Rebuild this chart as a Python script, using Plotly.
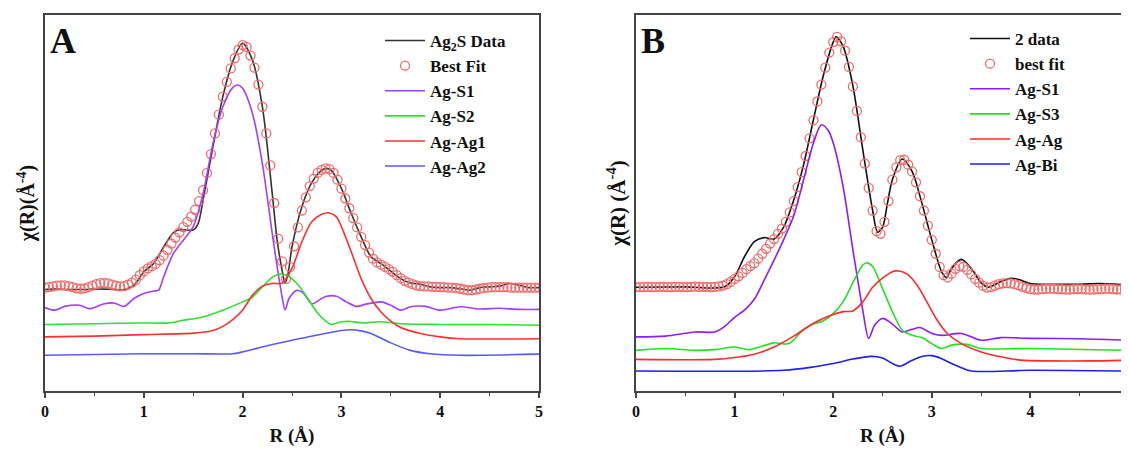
import numpy as np
import plotly.graph_objects as go

# ---------------- Panel A data ----------------
fitA_r = np.round(np.linspace(0, 5, 126), 2)
fitA = [2.75, 2.76, 2.78, 2.80, 2.81, 2.81, 2.79, 2.76, 2.73, 2.72,
        2.73, 2.76, 2.80, 2.84, 2.87, 2.87, 2.86, 2.83, 2.80, 2.78,
        2.79, 2.83, 2.88, 2.96, 3.08, 3.18, 3.26, 3.32, 3.38, 3.48,
        3.60, 3.75, 3.92, 4.08, 4.22, 4.36, 4.50, 4.64, 4.82, 5.05,
        5.34, 5.80, 6.30, 6.85, 7.35, 7.83, 8.22, 8.58, 8.85, 9.08,
        9.20, 9.15, 8.92, 8.60, 8.15, 7.56, 6.85, 6.00, 5.00, 4.05,
        3.45, 2.98, 3.30, 3.85, 4.35, 4.80, 5.15, 5.45, 5.65, 5.80,
        5.88, 5.92, 5.90, 5.80, 5.62, 5.38, 5.12, 4.86, 4.60, 4.35,
        4.10, 3.88, 3.68, 3.52, 3.42, 3.36, 3.30, 3.24, 3.17, 3.08,
        3.00, 2.93, 2.88, 2.84, 2.81, 2.79, 2.78, 2.78, 2.77, 2.77,
        2.76, 2.76, 2.75, 2.75, 2.74, 2.72, 2.70, 2.68, 2.68, 2.70,
        2.72, 2.74, 2.75, 2.76, 2.76, 2.76, 2.76, 2.76, 2.75, 2.75,
        2.75, 2.75, 2.75, 2.75, 2.75, 2.75]

dataA_r = [0, 0.1, 0.2, 0.3, 0.4, 0.5, 0.6, 0.7, 0.8, 0.9, 1.0, 1.1, 1.2, 1.3, 1.35,
           1.4, 1.5, 1.55, 1.6, 1.7, 1.8, 1.9, 2.0, 2.1, 2.2, 2.3, 2.35, 2.4, 2.43,
           2.46, 2.5, 2.6, 2.7, 2.8, 2.85, 2.9, 3.0, 3.1, 3.2, 3.3, 3.4, 3.5, 3.6,
           3.7, 3.8, 3.9, 4.0, 4.1, 4.2, 4.3, 4.4, 4.5, 4.6, 4.7, 4.8, 4.9, 5.0]
dataA = [2.70, 2.71, 2.70, 2.70, 2.70, 2.71, 2.71, 2.70, 2.70, 2.81, 3.17, 3.39, 3.83,
         4.21, 4.28, 4.29, 4.28, 4.45, 5.08, 6.50, 7.83, 8.76, 9.25, 8.80, 7.56, 5.25,
         4.00, 3.21, 2.87, 3.12, 3.83, 4.90, 5.54, 5.87, 5.92, 5.86, 5.39, 4.72, 4.10,
         3.57, 3.39, 3.19, 2.99, 2.87, 2.84, 2.77, 2.75, 2.75, 2.72, 2.68, 2.75, 2.77,
         2.79, 2.86, 2.81, 2.75, 2.75]

agS1A_r = [0, 0.1, 0.2, 0.35, 0.45, 0.6, 0.7, 0.8, 0.9, 1.0, 1.1, 1.15, 1.2, 1.3, 1.4,
           1.5, 1.6, 1.7, 1.8, 1.9, 1.95, 2.0, 2.1, 2.2, 2.3, 2.35, 2.4, 2.43, 2.47,
           2.55, 2.62, 2.7, 2.8, 2.85, 2.95, 3.05, 3.15, 3.25, 3.4, 3.5, 3.6, 3.7,
           3.85, 4.0, 4.2, 4.4, 4.6, 4.8, 5.0]
agS1A = [2.22, 2.15, 2.25, 2.28, 2.19, 2.32, 2.34, 2.25, 2.46, 2.59, 2.66, 2.68, 3.03,
         3.66, 4.01, 4.37, 5.25, 6.58, 7.56, 8.07, 8.14, 8.05, 7.38, 6.05, 4.19, 3.30,
         2.50, 2.15, 2.46, 2.68, 2.59, 2.32, 2.46, 2.52, 2.52, 2.37, 2.25, 2.31, 2.37,
         2.28, 2.15, 2.24, 2.25, 2.15, 2.24, 2.18, 2.20, 2.17, 2.17]

agS2A_r = [0, 0.5, 1.0, 1.25, 1.4, 1.6, 1.8, 2.0, 2.1, 2.2, 2.3, 2.38, 2.45, 2.55,
           2.65, 2.75, 2.85, 2.9, 3.0, 3.1, 3.2, 3.4, 3.6, 4.0, 4.5, 5.0]
agS2A = [1.77, 1.79, 1.81, 1.81, 1.88, 1.97, 2.15, 2.37, 2.50, 2.77, 3.02, 3.11, 3.07,
         2.86, 2.50, 2.10, 1.84, 1.77, 1.84, 1.85, 1.81, 1.84, 1.79, 1.77, 1.77, 1.75]

agAg1A_r = [0, 0.5, 1.0, 1.5, 1.7, 1.8, 1.9, 2.0, 2.1, 2.2, 2.3, 2.4, 2.5, 2.6, 2.7,
            2.8, 2.87, 2.95, 3.0, 3.1, 3.2, 3.3, 3.4, 3.5, 3.6, 3.8, 4.0, 4.2, 5.0]
agAg1A = [1.44, 1.46, 1.50, 1.54, 1.61, 1.72, 1.90, 2.15, 2.55, 2.79, 2.86, 2.87, 3.26,
          3.97, 4.50, 4.70, 4.74, 4.63, 4.37, 3.70, 2.99, 2.46, 2.10, 1.86, 1.69, 1.53,
          1.44, 1.39, 1.39]

agAg2A_r = [0, 1.0, 1.5, 1.9, 2.0, 2.2, 2.5, 2.8, 3.0, 3.1, 3.2, 3.3, 3.5, 3.7, 3.9,
            4.2, 5.0]
agAg2A = [0.95, 0.99, 0.99, 0.99, 1.04, 1.17, 1.35, 1.51, 1.61, 1.63, 1.60, 1.53, 1.28,
          1.08, 0.99, 0.95, 0.98]

# ---------------- Panel B data ----------------
fitB_r = np.round(np.linspace(0, 5, 126), 2)
fitB = [2.76, 2.76, 2.76, 2.77, 2.76, 2.76, 2.77, 2.77, 2.76, 2.76,
        2.77, 2.77, 2.76, 2.76, 2.77, 2.78, 2.77, 2.77, 2.77, 2.76,
        2.77, 2.78, 2.80, 2.84, 2.90, 2.98, 3.05, 3.14, 3.24, 3.32,
        3.40, 3.52, 3.65, 3.78, 3.92, 4.04, 4.18, 4.32, 4.50, 4.75,
        5.05, 5.42, 5.82, 6.25, 6.72, 7.20, 7.70, 8.15, 8.60, 9.00,
        9.28, 9.42, 9.30, 9.05, 8.62, 8.10, 7.45, 6.75, 6.05, 5.40,
        4.80, 4.25, 4.18, 4.50, 5.05, 5.62, 5.95, 6.14, 6.15, 6.02,
        5.84, 5.55, 5.18, 4.80, 4.40, 4.02, 3.65, 3.30, 3.08, 3.02,
        3.12, 3.25, 3.32, 3.30, 3.22, 3.10, 2.98, 2.88, 2.80, 2.75,
        2.76, 2.80, 2.84, 2.86, 2.87, 2.86, 2.84, 2.81, 2.77, 2.74,
        2.71, 2.70, 2.70, 2.71, 2.72, 2.72, 2.72, 2.71, 2.71, 2.70,
        2.70, 2.71, 2.71, 2.71, 2.70, 2.70, 2.70, 2.71, 2.71, 2.72,
        2.72, 2.71, 2.70, 2.70, 2.70, 2.70]

dataB_r = [0, 0.5, 0.9, 1.0, 1.1, 1.2, 1.3, 1.4, 1.5, 1.6, 1.7, 1.8, 1.9, 2.0, 2.03,
           2.1, 2.2, 2.3, 2.4, 2.45, 2.5, 2.55, 2.6, 2.7, 2.8, 2.9, 3.0, 3.1, 3.15,
           3.2, 3.3, 3.4, 3.5, 3.57, 3.7, 3.8, 3.9, 4.0, 4.5, 4.7, 5.0]
dataB = [2.76, 2.77, 2.77, 3.04, 3.57, 3.97, 4.08, 4.04, 4.37, 5.08, 6.02, 7.22, 8.39,
         9.28, 9.42, 9.17, 8.11, 6.42, 4.80, 4.22, 4.35, 4.99, 5.62, 6.17, 5.84, 4.99,
         4.02, 3.17, 3.02, 3.26, 3.50, 3.26, 2.88, 2.76, 2.91, 3.00, 2.95, 2.86, 2.84,
         2.86, 2.82]

agS1B_r = [0, 0.3, 0.6, 0.8, 0.9, 1.0, 1.1, 1.2, 1.3, 1.4, 1.5, 1.6, 1.7, 1.8, 1.88,
           1.95, 2.0, 2.1, 2.2, 2.3, 2.36, 2.42, 2.5, 2.6, 2.7, 2.8, 2.88, 3.0, 3.1,
           3.3, 3.5, 3.7, 4.0, 4.5, 5.0]
agS1B = [1.44, 1.46, 1.57, 1.57, 1.72, 1.96, 2.15, 2.44, 2.95, 3.48, 4.04, 4.66, 5.62,
         6.60, 7.08, 6.93, 6.60, 5.44, 3.75, 2.15, 1.40, 1.75, 1.93, 1.78, 1.57, 1.64,
         1.69, 1.53, 1.48, 1.53, 1.35, 1.42, 1.40, 1.39, 1.35]

agS3B_r = [0, 0.3, 0.6, 0.8, 1.0, 1.15, 1.4, 1.55, 1.7, 1.8, 1.9, 2.0, 2.1, 2.2, 2.3,
           2.34, 2.4, 2.5, 2.6, 2.7, 2.8, 2.9, 3.0, 3.1, 3.2, 3.35, 3.5, 4.0, 5.0]
agS3B = [1.08, 1.13, 1.08, 1.10, 1.17, 1.10, 1.28, 1.26, 1.64, 1.78, 1.87, 2.06, 2.37,
         2.88, 3.35, 3.41, 3.31, 2.73, 2.11, 1.62, 1.48, 1.42, 1.26, 1.13, 1.22, 1.24,
         1.13, 1.13, 1.08]

agAgB_r = [0, 0.8, 1.0, 1.2, 1.4, 1.6, 1.8, 1.95, 2.1, 2.2, 2.3, 2.4, 2.5, 2.6, 2.65,
           2.75, 2.85, 2.95, 3.05, 3.15, 3.3, 3.5, 3.7, 3.9, 4.2, 4.6, 5.0]
agAgB = [0.84, 0.84, 0.89, 0.98, 1.17, 1.46, 1.80, 1.99, 2.11, 2.13, 2.37, 2.76, 3.00,
         3.17, 3.20, 3.11, 2.82, 2.37, 1.90, 1.55, 1.26, 1.04, 0.91, 0.82, 0.80, 0.80,
         0.82]

agBiB_r = [0, 1.5, 1.8, 2.0, 2.2, 2.38, 2.5, 2.6, 2.68, 2.78, 2.9, 3.0, 3.1, 3.2, 3.3,
           3.4, 4.0, 5.0]
agBiB = [0.53, 0.55, 0.64, 0.73, 0.85, 0.92, 0.88, 0.73, 0.66, 0.79, 0.92, 0.94, 0.86,
         0.73, 0.62, 0.53, 0.55, 0.53]

x_ticks = [0, 1, 2, 3, 4, 5]

# ---------------- Styles ----------------
FONT = "Liberation Serif"
FIT_COLOR = "#f26b6b"
TXT = "#111111"

fig = go.Figure()

def line(x, y, name, color, xa, ya, legend, width=1.6):
    fig.add_trace(go.Scatter(x=x, y=y, mode="lines", name=name,
                             line=dict(color=color, width=width, shape="spline", smoothing=0.8),
                             xaxis=xa, yaxis=ya, legend=legend))

def fit(x, y, name, xa, ya, legend):
    fig.add_trace(go.Scatter(x=x, y=y, mode="markers", name=name,
                             marker=dict(symbol="circle-open", size=9, color=FIT_COLOR,
                                         line=dict(width=1.3, color=FIT_COLOR)),
                             xaxis=xa, yaxis=ya, legend=legend))

# Panel A
line(dataA_r, dataA, "Ag<sub>2</sub>S Data", "#333333", "x", "y", "legend")
fit(fitA_r, fitA, "Best Fit", "x", "y", "legend")
line(agS1A_r, agS1A, "Ag-S1", "#a040ff", "x", "y", "legend")
line(agS2A_r, agS2A, "Ag-S2", "#33dd33", "x", "y", "legend")
line(agAg1A_r, agAg1A, "Ag-Ag1", "#ff3030", "x", "y", "legend")
line(agAg2A_r, agAg2A, "Ag-Ag2", "#5a5aff", "x", "y", "legend")

# Panel B
line(dataB_r, dataB, "2 data", "#111111", "x2", "y2", "legend2")
fit(fitB_r, fitB, "best fit", "x2", "y2", "legend2")
line(agS1B_r, agS1B, "Ag-S1", "#8a1cff", "x2", "y2", "legend2")
line(agS3B_r, agS3B, "Ag-S3", "#22e022", "x2", "y2", "legend2")
line(agAgB_r, agAgB, "Ag-Ag", "#ff2a2a", "x2", "y2", "legend2")
line(agBiB_r, agBiB, "Ag-Bi", "#1f1fe8", "x2", "y2", "legend2")

# page body has an 8px margin: size the figure so the plot lands where the reference has it
OFF = 8
W, H = 1129 - OFF, 454 - OFF
ML, MR, MT, MB = 45 - OFF, 0, 15 - OFF, 63
PW = W - ML - MR
PH = H - MT - MB

xcommon = dict(range=[0, 5], tickvals=x_ticks, ticks="outside", ticklen=5, tickwidth=1.5,
               tickcolor="#444444", showline=True, linecolor="#444444", linewidth=1.5,
               showgrid=False, zeroline=False, ticklabeloverflow="allow",
               tickfont=dict(family=FONT, size=16, color=TXT, weight="bold"),
               minor=dict(dtick=0.5, ticks="outside", ticklen=3, tickwidth=1.2, tickcolor="#444444"),
               title=dict(text="<b>R (Å)</b>", font=dict(family=FONT, size=19, color=TXT),
                          standoff=10),
               automargin=False)
ycommon = dict(range=[0, 10], showticklabels=False, ticks="", showline=True,
               linecolor="#444444", linewidth=1.5, showgrid=False, zeroline=False,
               automargin=False)

legfont = dict(family=FONT, size=17, color=TXT, weight="bold")

fig.update_layout(
    width=W, height=H,
    margin=dict(l=ML, r=MR, t=MT, b=MB),
    paper_bgcolor="white", plot_bgcolor="white",
    font=dict(family=FONT, color=TXT),
    xaxis=dict(domain=[0, 494 / PW], mirror=True, anchor="y", **xcommon),
    yaxis=dict(domain=[0, 1], mirror=True, anchor="x",
               title=dict(text="<b>χ(R)(Å<sup>-4</sup>)</b>",
                          font=dict(family=FONT, size=20, color=TXT), standoff=3),
               **ycommon),
    xaxis2=dict(domain=[591 / PW, 1.0], mirror=True, anchor="y2", **xcommon),
    yaxis2=dict(domain=[0, 1], mirror=False, anchor="x2",
                title=dict(text="<b>χ(R) (Å<sup>-4</sup>)</b>",
                           font=dict(family=FONT, size=21, color=TXT), standoff=3),
                **ycommon),
    legend=dict(x=(380 - 45) / PW, y=1 - 8 / PH, xanchor="left", yanchor="top",
                font=legfont, bgcolor="rgba(0,0,0,0)", tracegroupgap=0, itemwidth=40),
    legend2=dict(x=(965 - 45) / PW, y=1 - 6 / PH, xanchor="left", yanchor="top",
                 font=legfont, bgcolor="rgba(0,0,0,0)", tracegroupgap=0, itemwidth=40),
    annotations=[
        dict(text="<b>A</b>", xref="x domain", yref="y domain", x=0.006, y=0.99,
             xanchor="left", yanchor="top", showarrow=False,
             font=dict(family=FONT, size=36, color=TXT)),
        dict(text="<b>B</b>", xref="x2 domain", yref="y2 domain", x=0.006, y=0.99,
             xanchor="left", yanchor="top", showarrow=False,
             font=dict(family=FONT, size=36, color=TXT)),
    ],
)

fig.write_html("out.html")
